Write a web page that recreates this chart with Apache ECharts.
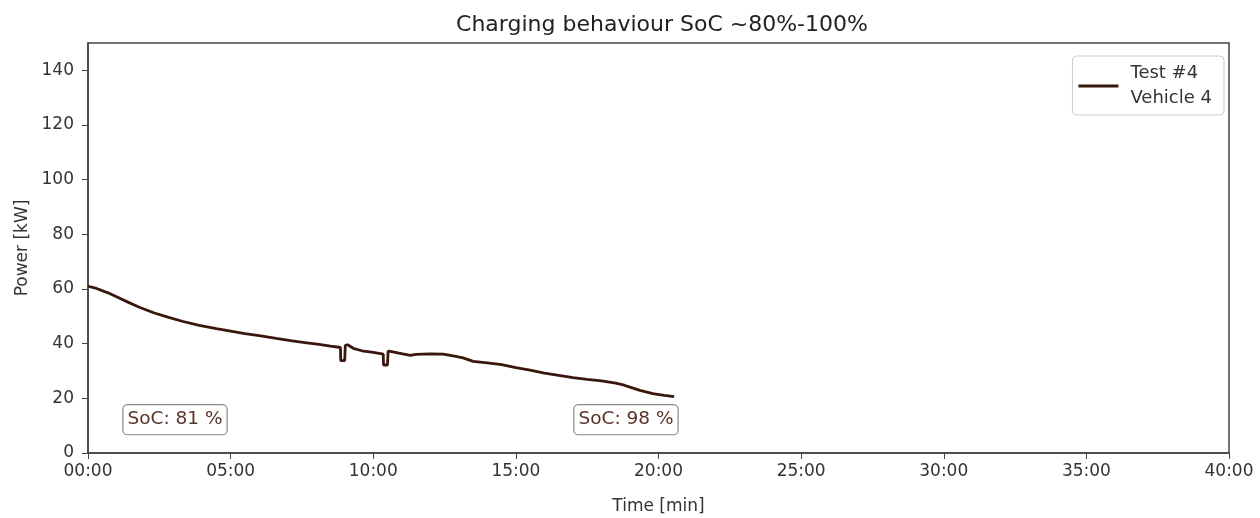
<!DOCTYPE html>
<html>
<head>
<meta charset="utf-8">
<script src="https://cdn.jsdelivr.net/npm/echarts@6/dist/echarts.min.js"></script>
<style>
  html, body { margin: 0; padding: 0; background: #fff; }
  #chart { width: 1260px; height: 518px; }
</style>
</head>
<body>
<div id="chart"></div>
<script>
  // time in minutes, power in kW
  const timeMin = [0, 0.3, 0.7, 1.0, 1.4, 1.8, 2.3, 2.8, 3.3, 3.9, 4.5, 5.0, 5.5, 6.0, 6.6, 7.1, 7.6, 8.1, 8.5,
    8.85, 8.86, 9.0, 9.02, 9.1, 9.3, 9.6, 10.0, 10.35, 10.36, 10.5, 10.52, 10.6, 10.9, 11.3, 11.5, 12.0,
    12.45, 12.8, 13.15, 13.5, 14.0, 14.5, 15.0, 15.5, 16.0, 16.5, 17.0, 17.5, 18.0, 18.5, 18.8, 19.0,
    19.35, 19.8, 20.2, 20.55];
  const powerKw = [61.0, 60.2, 58.6, 57.2, 55.2, 53.3, 51.3, 49.7, 48.2, 46.7, 45.5, 44.6, 43.7, 42.9, 41.9, 41.1, 40.4, 39.7, 39.1,
    38.6, 33.8, 33.8, 39.4, 39.6, 38.3, 37.4, 36.8, 36.2, 32.2, 32.2, 37.3, 37.2, 36.5, 35.7, 36.1, 36.3,
    36.2, 35.5, 34.8, 33.5, 33.0, 32.3, 31.2, 30.3, 29.2, 28.4, 27.6, 26.9, 26.4, 25.6, 24.8, 24.1,
    22.9, 21.7, 21.1, 20.6];
  const seriesName = 'Test #4\nVehicle 4';
  const socLabels = ['SoC: 81 %', 'SoC: 98 %'];
  const socPos = [[3.05, 12.2], [18.86, 12.2]];
  const yTicks = [0, 20, 40, 60, 80, 100, 120, 140];

  const font = 'DejaVu Sans';
  const lineData = timeMin.map((t, i) => [t, powerKw[i]]);

  const option = {
    animation: false,
    textStyle: { fontFamily: font },
    title: {
      text: 'Charging behaviour SoC ~80%-100%',
      left: 657, top: 9, textAlign: 'center',
      textStyle: { fontFamily: font, fontSize: 22, fontWeight: 'normal', color: '#222' }
    },
    grid: {
      left: 88, right: 31, top: 43, bottom: 65,
      outerBoundsMode: 'none',
      show: true, borderColor: '#444', borderWidth: 1.5, backgroundColor: '#fff'
    },
    legend: {
      data: [seriesName],
      right: 36, top: 56,
      orient: 'vertical',
      icon: 'rect', itemWidth: 40, itemHeight: 3,
      padding: [5, 12, 4, 6],
      backgroundColor: '#fff', borderColor: '#ccc', borderWidth: 1, borderRadius: 4,
      textStyle: { fontFamily: font, fontSize: 18, color: '#333', lineHeight: 25, padding: [0, 0, 0, 7] }
    },
    xAxis: {
      type: 'value', min: 0, max: 40, interval: 5,
      name: 'Time [min]', nameLocation: 'middle', nameGap: 45,
      nameTextStyle: { fontFamily: font, fontSize: 17, color: '#333' },
      axisLine: { show: true, lineStyle: { color: '#444', width: 1.5 } },
      axisTick: { show: true, length: 6, lineStyle: { color: '#444' } },
      axisLabel: {
        color: '#333', fontSize: 17, margin: 10, fontFamily: font,
        formatter: v => String(v).padStart(2, '0') + ':00'
      },
      splitLine: { show: false }
    },
    yAxis: {
      type: 'value', min: 0, max: 150, interval: 20,
      name: 'Power [kW]', nameLocation: 'middle', nameGap: 57, nameRotate: 90,
      nameTextStyle: { fontFamily: font, fontSize: 17, color: '#333' },
      axisLine: { show: true, lineStyle: { color: '#444', width: 1.5 } },
      axisTick: { show: true, length: 6, lineStyle: { color: '#444' }, customValues: yTicks },
      axisLabel: { color: '#333', fontSize: 17, margin: 14, fontFamily: font, customValues: yTicks },
      splitLine: { show: false }
    },
    series: [{
      name: seriesName,
      type: 'line',
      data: lineData,
      symbol: 'none',
      color: '#3a170c',
      lineStyle: { color: '#3a170c', width: 2.8 },
      markPoint: {
        symbol: 'rect', symbolSize: 0,
        silent: true,
        data: socLabels.map((s, i) => ({
          coord: socPos[i],
          label: {
            show: true, formatter: s, position: 'inside',
            fontFamily: font, fontSize: 18.5, color: '#5a3328',
            backgroundColor: '#fff', borderColor: '#888', borderWidth: 1.2, borderRadius: 4,
            padding: [6, 4, 4, 4]
          }
        }))
      }
    }]
  };

  const chartObj = echarts.init(document.getElementById('chart'));
  chartObj.setOption(option);
</script>
</body>
</html>
